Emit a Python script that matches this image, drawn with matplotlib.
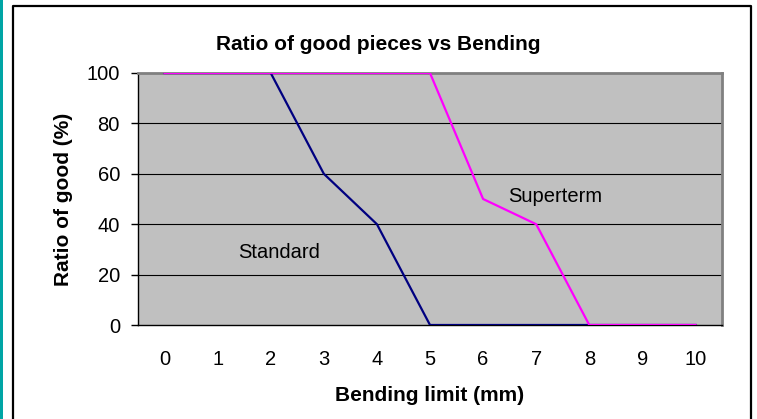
import matplotlib.pyplot as plt
from matplotlib.lines import Line2D
from matplotlib.patches import Rectangle

plt.rcParams['font.family'] = ['Liberation Sans', 'DejaVu Sans']

bending = [0, 1, 2, 3, 4, 5, 6, 7, 8, 9, 10]
standard = [100, 100, 100, 60, 40, 0, 0, 0, 0, 0, 0]
superterm = [100, 100, 100, 100, 100, 100, 50, 40, 0, 0, 0]
yticks = [0, 20, 40, 60, 80, 100]

W, H = 757, 419
fig = plt.figure(figsize=(W / 100, H / 100), dpi=100)
fig.patch.set_facecolor('white')

# outer chart frame + teal strip on the left edge
fig.patches.append(Rectangle((0, 0), 3 / W, 1, transform=fig.transFigure,
                             facecolor='#00A5A5', edgecolor='none'))
fig.lines.append(Line2D([12.5 / W, 12.5 / W, 751 / W, 751 / W],
                        [0, 1 - 6.5 / H, 1 - 6.5 / H, 0],
                        transform=fig.transFigure, color='black', lw=1.6))

ax = fig.add_axes([138 / W, 1 - 325 / H, 584 / W, 252 / H])
ax.set_facecolor('#C0C0C0')

for y in yticks[1:-1]:
    ax.axhline(y, color='black', lw=0.8, zorder=1)

ax.plot(bending, standard, color='#000080', lw=1.6, zorder=3)
ax.plot(bending, superterm, color='#FF00FF', lw=1.6, zorder=4)

ax.set_xlim(-0.5, 10.5)
ax.set_ylim(0, 100)
ax.set_xticks(bending)
ax.set_yticks(yticks)
ax.tick_params(axis='x', length=0, pad=18, labelsize=14.5)
ax.tick_params(axis='y', length=5, width=1, pad=8, labelsize=14.5, direction='out')

for s in ['top', 'right']:
    ax.spines[s].set_color('#808080')
    ax.spines[s].set_linewidth(2)
for s in ['left', 'bottom']:
    ax.spines[s].set_color('black')
    ax.spines[s].set_linewidth(1)

ax.text(1.38, 28.6, 'Standard', fontsize=14.5, va='center', ha='left')
ax.text(6.47, 50.8, 'Superterm', fontsize=14.5, va='center', ha='left')

ax.set_xlabel('Bending limit (mm)', fontsize=15, fontweight='bold', labelpad=12)
ax.set_ylabel('Ratio of good (%)', fontsize=15, fontweight='bold', labelpad=10)
fig.text(0.5, 1 - 45 / H, 'Ratio of good pieces vs Bending', fontsize=15,
         fontweight='bold', ha='center', va='center')

fig.savefig('out.png', dpi=100)
